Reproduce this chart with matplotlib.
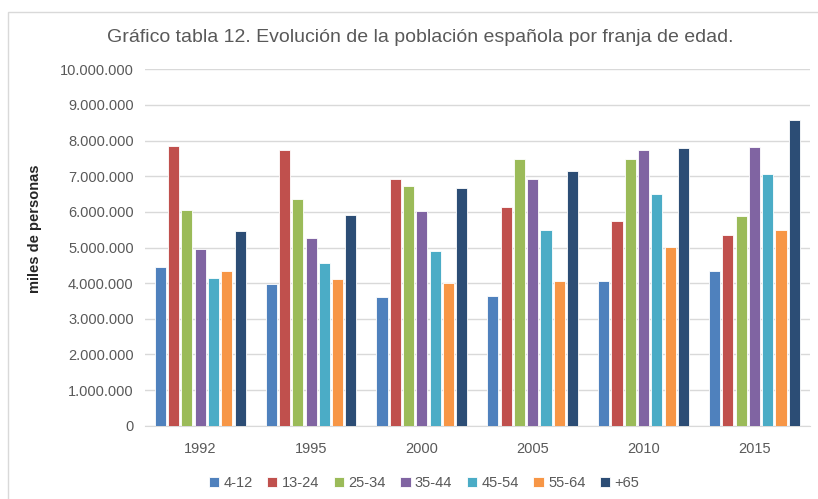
import numpy as np
import matplotlib.pyplot as plt
from matplotlib.ticker import FuncFormatter
from matplotlib.patches import Rectangle

years = ['1992', '1995', '2000', '2005', '2010', '2015']
groups = ['4-12', '13-24', '25-34', '35-44', '45-54', '55-64', '+65']

# valores por franja de edad (personas)
v_4_12 = [4460000, 3970000, 3600000, 3640000, 4050000, 4350000]
v_13_24 = [7860000, 7750000, 6930000, 6150000, 5730000, 5360000]
v_25_34 = [6060000, 6370000, 6740000, 7490000, 7490000, 5890000]
v_35_44 = [4970000, 5280000, 6030000, 6930000, 7750000, 7830000]
v_45_54 = [4150000, 4570000, 4910000, 5500000, 6510000, 7070000]
v_55_64 = [4350000, 4120000, 4010000, 4050000, 5020000, 5480000]
v_65 = [5470000, 5920000, 6670000, 7160000, 7790000, 8580000]

series = [v_4_12, v_13_24, v_25_34, v_35_44, v_45_54, v_55_64, v_65]
colors = ['#4F81BD', '#C0504D', '#9BBB59', '#8064A2', '#4BACC6', '#F79646', '#2C4D75']

plt.rcParams['font.family'] = ['Liberation Sans', 'DejaVu Sans']

fig = plt.figure(figsize=(8.18, 4.99), dpi=100)
ax = fig.add_axes([0.177, 0.147, 0.813, 0.714])

x = np.arange(len(years))
step = 0.12
for i, (vals, c) in enumerate(zip(series, colors)):
    ax.bar(x + (i - 3) * step, vals, width=0.1, color=c, label=groups[i],
           edgecolor='white', linewidth=0.6, zorder=3)

ax.set_xlim(-0.5, len(years) - 0.5)
ax.set_ylim(0, 10000000)
ax.set_yticks(np.arange(0, 10000001, 1000000))
ax.yaxis.set_major_formatter(FuncFormatter(lambda v, p: '{:,.0f}'.format(v).replace(',', '.')))
ax.set_xticks(x)
ax.set_xticklabels(years)
ax.tick_params(axis='y', length=0, labelsize=10.5, colors='#595959', pad=8)
ax.tick_params(axis='x', length=0, labelsize=10.5, colors='#595959', pad=12)
ax.grid(axis='y', color='#D9D9D9', linewidth=1, zorder=0)
for s in ['top', 'right', 'left']:
    ax.spines[s].set_visible(False)
ax.spines['bottom'].set_color('#D9D9D9')

ax.set_ylabel('miles de personas', fontsize=10.5, fontweight='bold', color='#262626')
ax.yaxis.set_label_coords(-0.155, 0.552)

fig.text(0.514, 0.925, 'Gráfico tabla 12. Evolución de la población española por franja de edad.',
         ha='center', va='center', fontsize=14, color='#595959')

ax.legend(loc='upper center', bbox_to_anchor=(0.42, -0.105), ncol=7, frameon=False,
          fontsize=10.5, handlelength=0.7, handleheight=0.7, handletextpad=0.3,
          columnspacing=1.0, labelcolor='#595959')

fig.patches.append(Rectangle((0.01, -0.01), 1.0, 0.985, transform=fig.transFigure,
                             fill=False, edgecolor='#D9D9D9', linewidth=1))

fig.savefig('out.png', dpi=100)
